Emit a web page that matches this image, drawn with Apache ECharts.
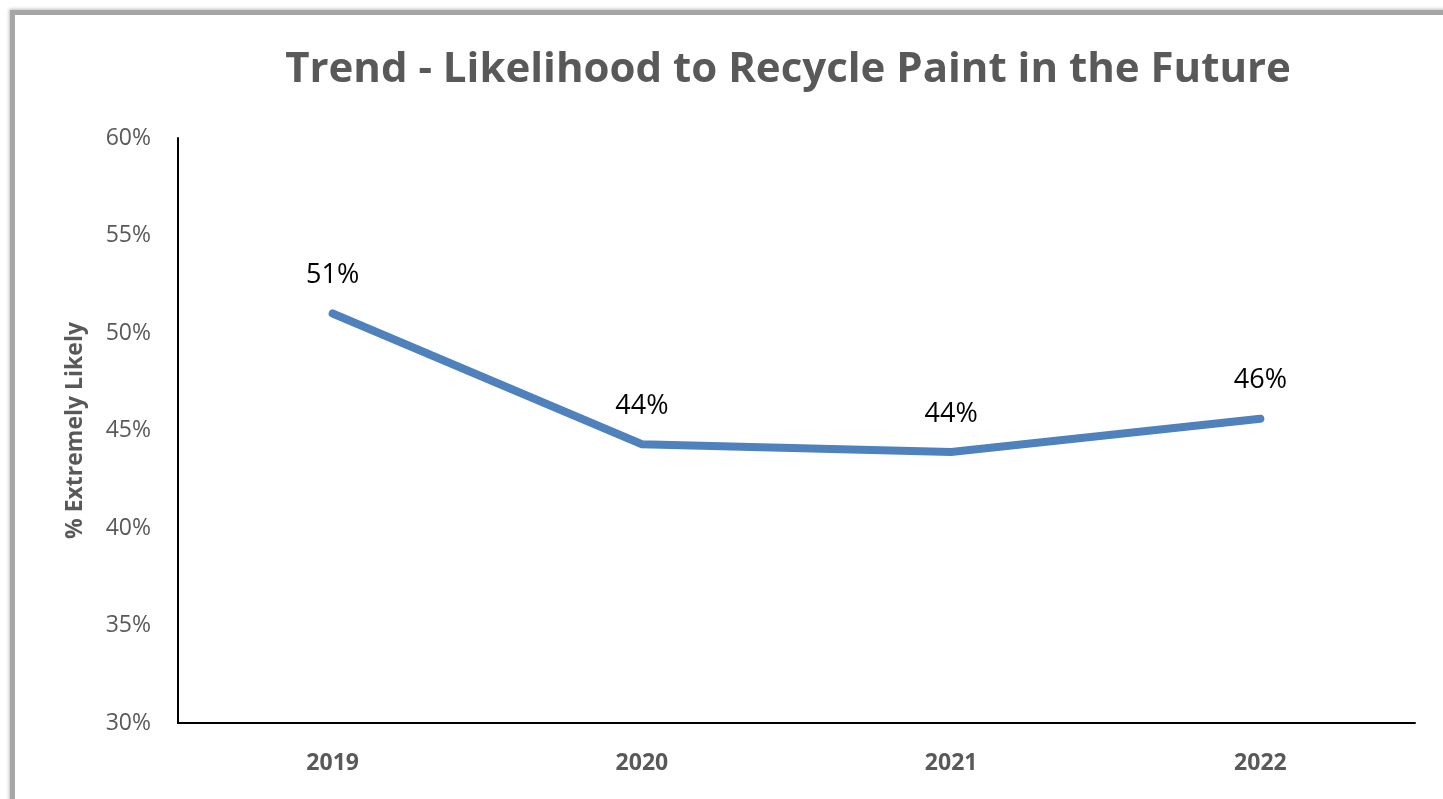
<!DOCTYPE html>
<html>
<head>
<meta charset="utf-8">
<script src="https://cdn.jsdelivr.net/npm/echarts@6/dist/echarts.min.js"></script>
<style>
html,body{margin:0;padding:0;background:#fff;}
#frame{position:absolute;left:10px;top:10px;width:1450px;height:786px;border-left:5px solid #a6a6a6;border-top:5px solid #a6a6a6;border-bottom:2px solid #dcdcdc;box-shadow:-1px -1px 3px rgba(0,0,0,0.25);}
#chart{position:absolute;left:0;top:0;width:1443px;height:799px;}
</style>
</head>
<body>
<div id="frame"></div>
<div id="chart"></div>
<script>
var titleText = 'Trend - Likelihood to Recycle Paint in the Future';
var yAxisName = '% Extremely Likely';
var years = ['2019', '2020', '2021', '2022'];
var extremelyLikely = [51.0, 44.3, 43.9, 45.6];
var yMin = 30, yMax = 60, yStep = 5;

var chart = echarts.init(document.getElementById('chart'));
chart.setOption({
  backgroundColor: 'transparent',
  title: {
    text: titleText,
    left: 783, top: 44, textAlign: 'center',
    textStyle: {fontFamily: 'Open Sans', fontWeight: 'bold', fontSize: 42, color: '#595959'}
  },
  grid: {left: 178, right: 28, top: 138, bottom: 76},
  xAxis: {
    type: 'category', data: years, boundaryGap: true,
    axisLine: {lineStyle: {color: '#000', width: 2}},
    axisTick: {show: false},
    axisLabel: {margin: 29, fontFamily: 'Open Sans', fontWeight: 'bold', fontSize: 23, color: '#595959'}
  },
  yAxis: {
    type: 'value', min: yMin, max: yMax, interval: yStep,
    name: yAxisName, nameLocation: 'middle', nameGap: 91, nameRotate: 90,
    nameTextStyle: {fontFamily: 'Open Sans', fontWeight: 'bold', fontSize: 23, color: '#595959'},
    axisLine: {show: true, lineStyle: {color: '#000', width: 2}},
    axisTick: {show: false},
    splitLine: {show: false},
    axisLabel: {margin: 27, fontFamily: 'Open Sans', fontSize: 23, color: '#595959', formatter: function (v) { return v + '%'; }}
  },
  series: [{
    type: 'line', data: extremelyLikely,
    symbol: 'circle', symbolSize: 1, showSymbol: true,
    itemStyle: {color: '#4F81BD'},
    lineStyle: {color: '#4F81BD', width: 8, cap: 'round', join: 'miter'},
    label: {
      show: true, position: 'top', distance: 24,
      fontFamily: 'Open Sans', fontSize: 27, color: '#000',
      formatter: function (p) { return Math.round(p.value) + '%'; }
    }
  }]
});
</script>
</body>
</html>
